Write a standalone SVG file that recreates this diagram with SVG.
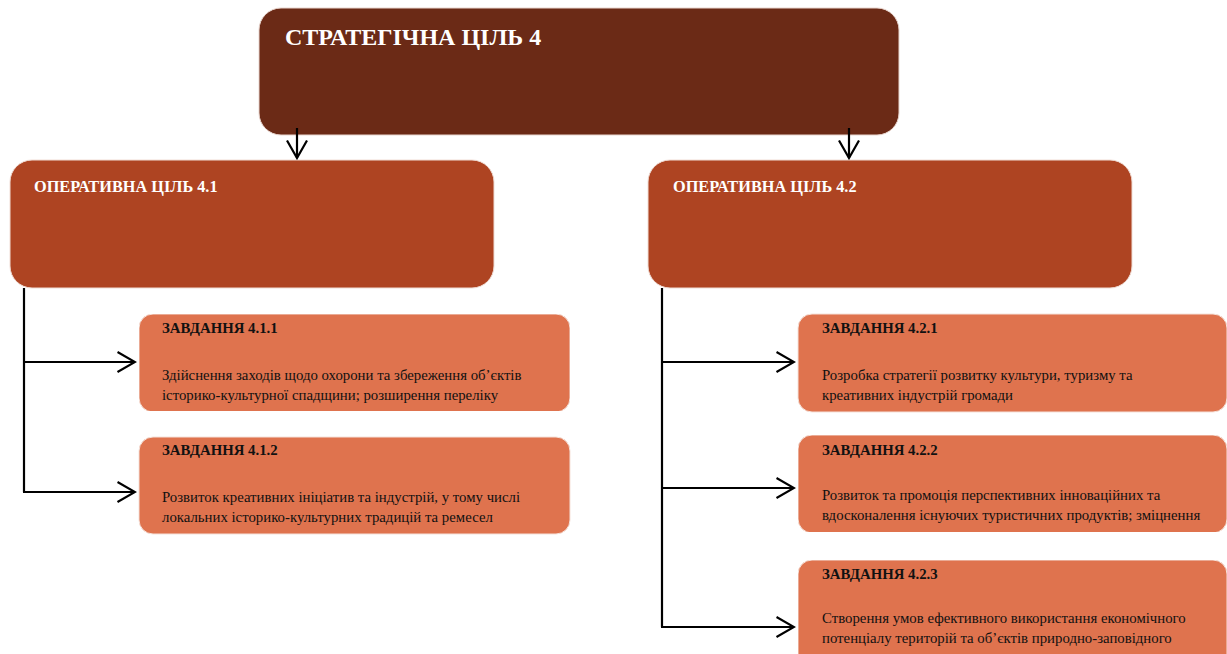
<svg xmlns="http://www.w3.org/2000/svg" width="1227" height="654" viewBox="0 0 1227 654">
<style>
.strat{fill:#6B2A16;stroke:#E9D6CF;stroke-width:1}
.op{fill:#AE4422;stroke:#F0DDD5;stroke-width:1}
.task{fill:#DF734E;stroke:#F5E2DA;stroke-width:1}
.t{font-family:"Liberation Serif","Times New Roman",serif}
.h1{font-size:24px;font-weight:bold;fill:#FFFFFF}
.h2{font-size:16.3px;font-weight:bold;fill:#FFFFFF}
.h3{font-size:14.8px;font-weight:bold;fill:#111111}
.b{font-size:14.8px;fill:#111111}
.c{fill:none;stroke:#000000;stroke-width:2.2}
</style>
<defs>
<marker id="ah" viewBox="0 0 20 22" refX="18.5" refY="11" markerWidth="20" markerHeight="22" markerUnits="userSpaceOnUse" orient="auto">
<path d="M1,1 L18.5,11 L1,21" fill="none" stroke="#000" stroke-width="2.2"/>
</marker>
<clipPath id="c411"><rect x="139" y="314" width="431" height="97"/></clipPath>
<clipPath id="c422"><rect x="798" y="435" width="429" height="97"/></clipPath>
<clipPath id="c423"><rect x="798" y="560" width="429" height="94"/></clipPath>
</defs>
<g id="strategic">
<rect class="strat" x="259" y="8" width="640" height="127" rx="22"/>
<text class="t h1" x="285" y="45">СТРАТЕГІЧНА ЦІЛЬ 4</text>
</g>
<g id="op41">
<rect class="op" x="10" y="160" width="484" height="128" rx="22"/>
<text class="t h2" x="34" y="192">ОПЕРАТИВНА ЦІЛЬ 4.1</text>
</g>
<g id="op42">
<rect class="op" x="648" y="160" width="484" height="128" rx="22"/>
<text class="t h2" x="673" y="192">ОПЕРАТИВНА ЦІЛЬ 4.2</text>
</g>
<g id="task411" clip-path="url(#c411)">
<rect class="task" x="139" y="314" width="431" height="98" rx="14"/>
<text class="t h3" x="162" y="333">ЗАВДАННЯ 4.1.1</text>
<text class="t b" x="162" y="380">Здійснення заходів щодо охорони та збереження об’єктів</text>
<text class="t b" x="162" y="400">історико-культурної спадщини; розширення переліку</text>
</g>
<g id="task412">
<rect class="task" x="139" y="437" width="431" height="97" rx="14"/>
<text class="t h3" x="162" y="455">ЗАВДАННЯ 4.1.2</text>
<text class="t b" x="162" y="502">Розвиток креативних ініціатив та індустрій, у тому числі</text>
<text class="t b" x="162" y="522">локальних історико-культурних традицій та ремесел</text>
</g>
<g id="task421">
<rect class="task" x="798" y="314" width="429" height="98" rx="14"/>
<text class="t h3" x="822" y="333">ЗАВДАННЯ 4.2.1</text>
<text class="t b" x="822" y="380">Розробка стратегії розвитку культури, туризму та</text>
<text class="t b" x="822" y="400">креативних індустрій громади</text>
</g>
<g id="task422" clip-path="url(#c422)">
<rect class="task" x="798" y="435" width="429" height="98" rx="14"/>
<text class="t h3" x="822" y="455">ЗАВДАННЯ 4.2.2</text>
<text class="t b" x="822" y="500">Розвиток та промоція перспективних інноваційних та</text>
<text class="t b" x="822" y="520">вдосконалення існуючих туристичних продуктів; зміцнення</text>
</g>
<g id="task423" clip-path="url(#c423)">
<rect class="task" x="798" y="560" width="429" height="110" rx="14"/>
<text class="t h3" x="822" y="579">ЗАВДАННЯ 4.2.3</text>
<text class="t b" x="822" y="623">Створення умов ефективного використання економічного</text>
<text class="t b" x="822" y="643">потенціалу територій та об’єктів природно-заповідного</text>
</g>
<g id="connectors">
<line class="c" x1="297" y1="128" x2="297" y2="158" marker-end="url(#ah)"/>
<line class="c" x1="849" y1="128" x2="849" y2="158" marker-end="url(#ah)"/>
<polyline class="c" points="24,288 24,492"/>
<line class="c" x1="23" y1="362" x2="135" y2="362" marker-end="url(#ah)"/>
<line class="c" x1="23" y1="492" x2="135" y2="492" marker-end="url(#ah)"/>
<polyline class="c" points="662,288 662,627"/>
<line class="c" x1="661" y1="362" x2="794" y2="362" marker-end="url(#ah)"/>
<line class="c" x1="661" y1="488" x2="794" y2="488" marker-end="url(#ah)"/>
<line class="c" x1="661" y1="627" x2="794" y2="627" marker-end="url(#ah)"/>
</g>
</svg>
